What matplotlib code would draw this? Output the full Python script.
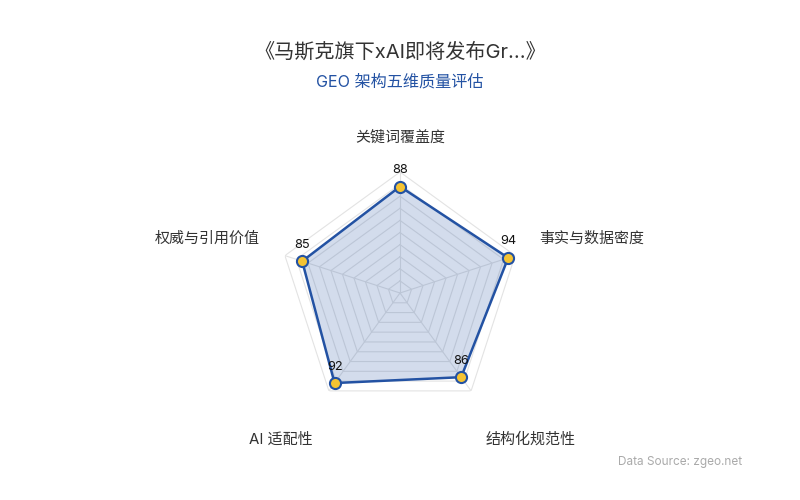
import numpy as np
import matplotlib
matplotlib.use("Agg")
import matplotlib.pyplot as plt

plt.rcParams['font.family'] = ['Inter', 'Noto Sans CJK SC', 'DejaVu Sans']

title = "《马斯克旗下xAI即将发布Gr...》"
subtitle = "GEO 架构五维质量评估"
source = "Data Source: zgeo.net"
dims = ["关键词覆盖度", "事实与数据密度", "结构化规范性", "AI 适配性", "权威与引用价值"]
scores = [88, 94, 86, 92, 85]
max_val = 100
levels = 10

blue = "#2352a3"
gold = "#f5c332"

n = len(dims)
theta = np.pi / 2 - np.arange(n) * 2 * np.pi / n

fig = plt.figure(figsize=(8, 5), dpi=100)
fig.text(0.5, 1 - 52 / 500, title, ha="center", va="center", fontsize=14.5, color="#333333")
fig.text(0.5, 1 - 82 / 500, subtitle, ha="center", va="center", fontsize=11.6, color=blue)
fig.text(1 - 58 / 800, 1 - 462 / 500, source, ha="right", va="center", fontsize=8.5, color="#aaaaaa")

ax = fig.add_axes([0.5 - 121 / 800, 1 - (293 + 121) / 500, 242 / 800, 242 / 500], projection="polar")
ax.set_ylim(0, max_val)
ax.set_xticks([])
ax.set_yticks([])
ax.grid(False)
ax.spines["polar"].set_visible(False)

# polygon grid and spokes
tc = np.append(theta, theta[0])
for i in range(1, levels + 1):
    r = max_val * i / levels
    ax.plot(tc, [r] * (n + 1), color="#e3e3e3", lw=0.8, zorder=1)
for t in theta:
    ax.plot([t, t], [0, max_val], color="#e3e3e3", lw=0.8, zorder=1)

vals = np.append(scores, scores[0])
ax.fill(tc, vals, color=blue, alpha=0.2, zorder=2, lw=0)
ax.plot(tc, vals, color=blue, lw=1.8, zorder=3)
ax.plot(theta, scores, "o", ms=8, mfc=gold, mec=blue, mew=1.5, zorder=4)

for t, v in zip(theta, scores):
    ax.annotate(str(v), (t, v), xytext=(0, 7.5), textcoords="offset points",
                ha="center", va="bottom", fontsize=9.2, color="#111111")

# axis names, offset from the outer vertex (in pixels)
for t, name in zip(theta, dims):
    c, s = np.cos(t), np.sin(t)
    if abs(c) < 0.1:
        ha, off = "center", (0, 34)
    elif s > 0:
        ha, off = ("left", (24, 17)) if c > 0 else ("right", (-25, 17))
    else:
        ha, off = ("left", (14, -49)) if c > 0 else ("right", (-16, -49))
    ax.annotate(name, (t, max_val), xytext=off, textcoords="offset pixels",
                ha=ha, va="center", fontsize=10.8, color="#333333")

fig.savefig("out.png", dpi=100)
